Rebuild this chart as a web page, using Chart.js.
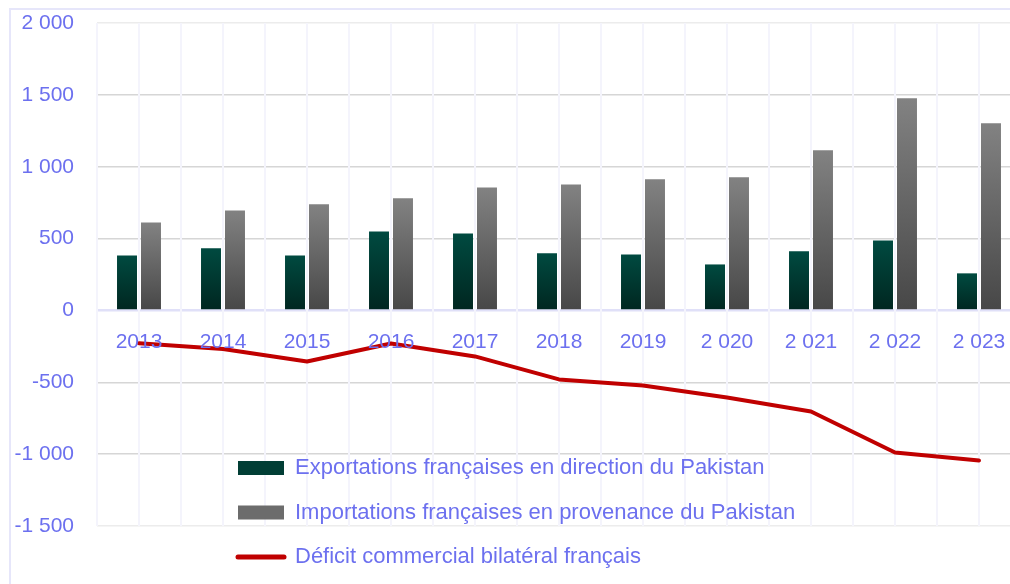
<!DOCTYPE html>
<html>
<head>
<meta charset="utf-8">
<script src="https://cdn.jsdelivr.net/npm/chart.js@4.4.0/dist/chart.umd.min.js"></script>
<style>
  html, body { margin: 0; padding: 0; background: #ffffff; overflow: hidden; }
  #stage { position: relative; width: 1010px; height: 584px; overflow: hidden; }
  .hl { position: absolute; left: 9px; top: 8px; width: 1001px; height: 2px; background: #e6e6fa; }
  .vl { position: absolute; left: 9px; top: 8px; width: 2px; height: 576px; background: #e6e6fa; }
  #wrap { position: absolute; left: 0; top: 0; width: 1030px; height: 584px; }
</style>
</head>
<body>
<div id="stage">
<div class="hl"></div><div class="vl"></div>
<div id="wrap"><canvas id="c" width="1030" height="584"></canvas></div>
</div>
<script>
const categories = ['2013', '2014', '2015', '2016', '2017', '2018', '2019', '2 020', '2 021', '2 022', '2 023'];
const exportsFR = [383, 432, 383, 550, 536, 397, 390, 320, 411, 487, 258];
const importsFR = [612, 696, 738, 780, 856, 877, 912, 926, 1114, 1476, 1302];
const deficitFR = [-229, -268, -355, -230, -320, -480, -522, -606, -703, -989, -1044];
const seriesNames = [
  'Exportations françaises en direction du Pakistan',
  'Importations françaises en provenance du Pakistan',
  'Déficit commercial bilatéral français'
];

const TEXT = '#6c70ef';
const FONT = 'Liberation Sans';

function barGradient(top, bottom) {
  return (ctx) => {
    const chart = ctx.chart;
    if (!chart.chartArea || ctx.type !== 'data' || !chart.scales.y) return bottom;
    const y0 = chart.scales.y.getPixelForValue(0);
    const y1 = chart.scales.y.getPixelForValue(ctx.raw);
    if (!isFinite(y0) || !isFinite(y1) || y0 === y1) return bottom;
    const g = chart.ctx.createLinearGradient(0, y1, 0, y0);
    g.addColorStop(0, top);
    g.addColorStop(1, bottom);
    return g;
  };
}

const legendFill = ['#013e35', '#6c6c6c', null];

const legendPlacer = {
  id: 'legendPlacer',
  afterLayout(chart) {
    const l = chart.legend;
    if (!l) return;
    const w = l.width, h = l.height;
    l.left = 215.5;
    l.top = 434.5;
    l.right = l.left + w;
    l.bottom = l.top + h;
  }
};

function fmt(v) {
  const s = Math.abs(v).toString().replace(/\B(?=(\d{3})+(?!\d))/g, ' ');
  return (v < 0 ? '-' : '') + s;
}

function zeroPad(s) {
  s.paddingTop = 0; s.paddingBottom = 0; s.paddingLeft = 0; s.paddingRight = 0;
}

new Chart(document.getElementById('c'), {
  data: {
    labels: categories,
    datasets: [
      {
        type: 'bar',
        label: seriesNames[0],
        data: exportsFR,
        backgroundColor: barGradient('#004a40', '#002620'),
        borderWidth: 0,
        barPercentage: 0.833,
        categoryPercentage: 0.571,
        pointStyle: 'rect'
      },
      {
        type: 'bar',
        label: seriesNames[1],
        data: importsFR,
        backgroundColor: barGradient('#828282', '#474747'),
        borderWidth: 0,
        barPercentage: 0.833,
        categoryPercentage: 0.571,
        pointStyle: 'rect'
      },
      {
        type: 'line',
        label: seriesNames[2],
        data: deficitFR,
        borderColor: '#c00000',
        backgroundColor: '#c00000',
        borderWidth: 4,
        pointRadius: 0,
        tension: 0,
        fill: false,
        borderCapStyle: 'round',
        borderJoinStyle: 'round',
        pointStyle: 'line'
      }
    ]
  },
  options: {
    responsive: false,
    animation: false,
    devicePixelRatio: 1,
    layout: { padding: { left: 0, top: 23, right: 9, bottom: 58 } },
    plugins: {
      tooltip: { enabled: false },
      title: { display: false },
      legend: {
        display: true,
        position: 'chartArea',
        align: 'start',
        labels: {
          usePointStyle: true,
          pointStyleWidth: 46,
          boxHeight: 14,
          padding: 22.5,
          color: TEXT,
          font: { family: FONT, size: 22 },
          generateLabels(chart) {
            const items = Chart.defaults.plugins.legend.labels.generateLabels(chart);
            items.forEach((it) => {
              const f = legendFill[it.datasetIndex];
              if (f) it.fillStyle = f;
              if (it.datasetIndex === 2) { it.lineWidth = 5; it.lineCap = 'round'; }
            });
            return items;
          }
        }
      }
    },
    scales: {
      y: {
        min: -1500,
        max: 2000,
        border: { display: false },
        grid: {
          z: -1,
          drawTicks: false,
          color: (c) => {
            const v = c.tick && c.tick.value;
            if (v === 0) return '#e0e0f8';
            if (v === 2000 || v === -1500) return '#ececec';
            return '#d6d6d6';
          },
          lineWidth: (c) => (c.tick && c.tick.value === 0 ? 2.5 : 1.5)
        },
        ticks: {
          stepSize: 500,
          padding: 23,
          color: TEXT,
          font: { family: FONT, size: 21 },
          callback: (v) => fmt(v)
        },
        afterFit: (s) => { s.width = 97; zeroPad(s); }
      },
      x: {
        type: 'category',
        position: { y: 0 },
        offset: true,
        border: { display: false },
        grid: { display: false, drawTicks: false },
        ticks: {
          z: 1,
          padding: 19,
          color: TEXT,
          font: { family: FONT, size: 21 },
          maxRotation: 0,
          autoSkip: false
        },
        afterFit: (s) => { zeroPad(s); }
      },
      x2: {
        type: 'linear',
        position: 'bottom',
        min: -0.5,
        max: 10.5,
        border: { display: false },
        grid: { color: '#f4f4fc', lineWidth: 2, drawTicks: false },
        ticks: { display: false, stepSize: 0.5 },
        afterFit: (s) => { s.height = 0; zeroPad(s); }
      }
    }
  },
  plugins: [legendPlacer]
});
</script>
</body>
</html>
